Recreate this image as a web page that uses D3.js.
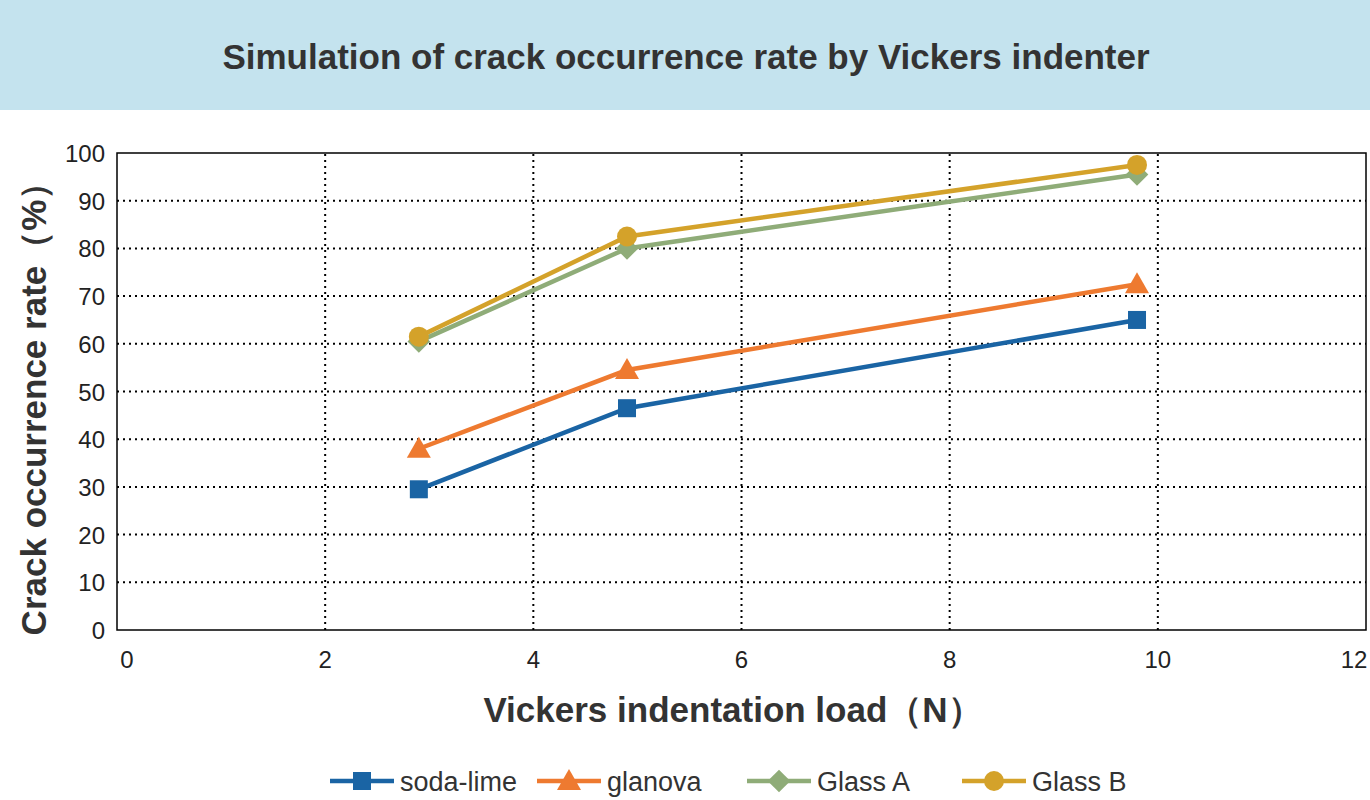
<!DOCTYPE html>
<html><head><meta charset="utf-8">
<script src="https://cdn.jsdelivr.net/npm/d3@7"></script>
<style>body{margin:0;background:#fff}svg{display:block;font-family:"Liberation Sans",Arial,sans-serif}</style>
</head><body><svg width="1370" height="800"></svg>
<script>
const loads = [2.9, 4.9, 9.8]
const seriesNames = ['soda-lime', 'glanova', 'Glass A', 'Glass B']
const sodaLime = [29.5, 46.5, 65]
const glanova = [38, 54.5, 72.5]
const glassA = [60.5, 80, 95.5]
const glassB = [61.5, 82.5, 97.5]
const xTicks = [0, 2, 4, 6, 8, 10, 12]
const yTicks = [0, 10, 20, 30, 40, 50, 60, 70, 80, 90, 100]

const colors = ['#1a64a4', '#ee7a30', '#8fac78', '#d4a22a']
const allValues = [sodaLime, glanova, glassA, glassB]

const svg = d3.select('svg')
svg.append('rect').attr('width', 1370).attr('height', 110).attr('fill', '#c4e3ee')
svg.append('text').attr('x', 686).attr('y', 69).attr('text-anchor', 'middle')
   .attr('font-size', 35).attr('font-weight', 'bold').attr('fill', '#333')
   .text('Simulation of crack occurrence rate by Vickers indenter')

const xScale = d3.scaleLinear().domain([0, 12]).range([117, 1366])
const yScale = d3.scaleLinear().domain([0, 100]).range([630, 153])

svg.append('g').selectAll('line').data(xTicks.slice(1, -1)).join('line')
   .attr('x1', d => xScale(d)).attr('x2', d => xScale(d)).attr('y1', yScale(0)).attr('y2', yScale(100))
   .attr('stroke', '#000').attr('stroke-width', 2).attr('stroke-dasharray', '2,4')
svg.append('g').selectAll('line').data(yTicks.slice(1, -1)).join('line')
   .attr('x1', xScale(0)).attr('x2', xScale(12)).attr('y1', d => yScale(d)).attr('y2', d => yScale(d))
   .attr('stroke', '#000').attr('stroke-width', 2).attr('stroke-dasharray', '2,4')
svg.append('rect').attr('x', xScale(0)).attr('y', yScale(100))
   .attr('width', xScale(12) - xScale(0)).attr('height', yScale(0) - yScale(100))
   .attr('fill', 'none').attr('stroke', '#000').attr('stroke-width', 1.5)

svg.append('g').selectAll('text').data(xTicks).join('text')
   .attr('x', d => d === 0 ? xScale(d) + 10 : d === 12 ? xScale(d) - 12 : xScale(d)).attr('y', 668)
   .attr('text-anchor', 'middle')
   .attr('font-size', 24).attr('fill', '#222').text(d => d)
svg.append('g').selectAll('text').data(yTicks).join('text')
   .attr('x', 105).attr('y', d => yScale(d) + 9).attr('text-anchor', 'end')
   .attr('font-size', 24).attr('fill', '#222').text(d => d)

svg.append('text').attr('x', 733).attr('y', 722).attr('text-anchor', 'middle')
   .attr('font-size', 35).attr('font-weight', 'bold').attr('fill', '#333')
   .text('Vickers indentation load（N）')
svg.append('text').attr('transform', 'translate(46,400) rotate(-90)').attr('text-anchor', 'middle')
   .attr('font-size', 35).attr('font-weight', 'bold').attr('fill', '#333')
   .text('Crack occurrence rate（%）')

function marker(g, s) {
  if (s === 0) g.append('rect').attr('x', -9).attr('y', -9).attr('width', 18).attr('height', 18).attr('fill', colors[s])
  else if (s === 1) g.append('path').attr('d', 'M0,-12L12,9L-12,9Z').attr('fill', colors[s])
  else if (s === 2) g.append('rect').attr('x', -8).attr('y', -8).attr('width', 16).attr('height', 16)
                     .attr('transform', 'rotate(45)').attr('fill', colors[s])
  else g.append('circle').attr('r', 10).attr('fill', colors[s])
}

const line = d3.line().x((d, i) => xScale(loads[i])).y(d => yScale(d))
allValues.forEach((vals, s) => {
  svg.append('path').attr('d', line(vals)).attr('fill', 'none')
     .attr('stroke', colors[s]).attr('stroke-width', 4.5)
  vals.forEach((v, i) => {
    marker(svg.append('g').attr('transform', `translate(${xScale(loads[i])},${yScale(v)})`), s)
  })
})

const legendX = [330, 537, 747, 962]
seriesNames.forEach((name, s) => {
  const g = svg.append('g').attr('transform', `translate(${legendX[s]},781)`)
  g.append('line').attr('x1', 0).attr('x2', 64).attr('stroke', colors[s]).attr('stroke-width', 4.5)
  marker(g.append('g').attr('transform', 'translate(32,0)'), s)
  g.append('text').attr('x', 70).attr('y', 10).attr('font-size', 27).attr('fill', '#333').text(name)
})
</script></body></html>
